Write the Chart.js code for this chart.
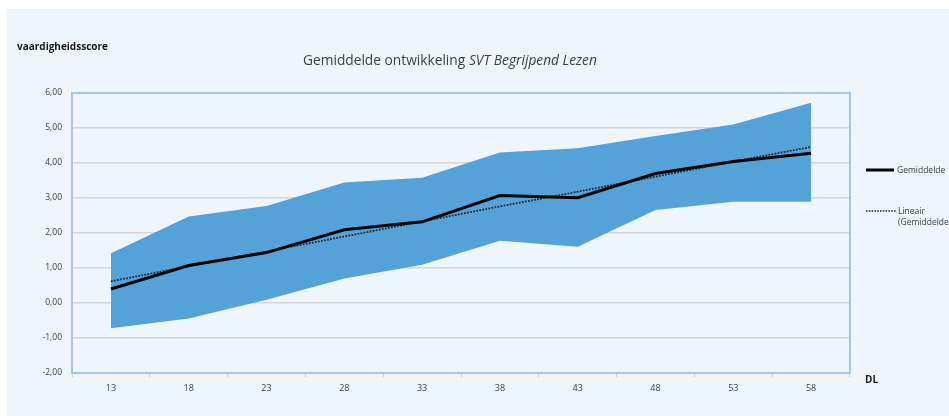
<!DOCTYPE html>
<html>
<head>
<meta charset="utf-8">
<script src="https://cdn.jsdelivr.net/npm/chart.js@4.4.1/dist/chart.umd.min.js"></script>
<style>
  html, body { margin: 0; padding: 0; background: #ffffff; }
  #wrap { width: 949px; height: 416px; position: relative; }
</style>
</head>
<body>
<div id="wrap"><canvas id="c" width="949" height="416"></canvas></div>
<script>
// Leerjaar-punten (DL) en vaardigheidsscores
const dlLabels   = ['13', '18', '23', '28', '33', '38', '43', '48', '53', '58'];
const gemiddelde = [0.40, 1.07, 1.44, 2.09, 2.32, 3.07, 3.01, 3.70, 4.04, 4.28];
const lineair    = [0.62, 1.05, 1.47, 1.90, 2.33, 2.76, 3.18, 3.61, 4.04, 4.46];
const bovengrens = [1.42, 2.47, 2.77, 3.44, 3.58, 4.30, 4.42, 4.77, 5.10, 5.72];
const ondergrens = [-0.72, -0.44, 0.09, 0.70, 1.09, 1.78, 1.61, 2.66, 2.89, 2.89];

const FONT = "'Open Sans', 'Liberation Sans', sans-serif";
const BG = '#eef5fb';

const decor = {
  id: 'decor',
  beforeDraw(chart) {
    const { ctx, width, height } = chart;
    ctx.save();
    ctx.fillStyle = '#ffffff';
    ctx.fillRect(0, 0, width, height);
    ctx.fillStyle = BG;
    ctx.fillRect(7, 9, width - 7, height - 9);
    ctx.restore();
  },
  afterDraw(chart) {
    const { ctx, chartArea: a } = chart;
    ctx.save();
    // plot frame
    ctx.strokeStyle = '#a6c6e4';
    ctx.lineWidth = 2;
    ctx.strokeRect(a.left, a.top, a.right - a.left, a.bottom - a.top);

    // y-axis caption
    ctx.fillStyle = '#1a1a1a';
    ctx.font = "bold 10px " + FONT;
    ctx.textBaseline = 'alphabetic';
    ctx.textAlign = 'left';
    ctx.fillText('vaardigheidsscore', 17, 50);

    // title with italic part
    const t1 = 'Gemiddelde ontwikkeling ';
    const t2 = 'SVT Begrijpend Lezen';
    let size = 13;
    ctx.font = size + 'px ' + FONT;
    let w1 = ctx.measureText(t1).width;
    ctx.font = 'italic ' + size + 'px ' + FONT;
    let w2 = ctx.measureText(t2).width;
    const s = 294 / (w1 + w2);
    size = size * s;
    w1 *= s; w2 *= s;
    const x0 = 450 - (w1 + w2) / 2;
    ctx.fillStyle = '#404040';
    ctx.font = size + 'px ' + FONT;
    ctx.fillText(t1, x0, 65);
    ctx.font = 'italic ' + size + 'px ' + FONT;
    ctx.fillText(t2, x0 + w1, 65);

    // x-axis caption
    ctx.fillStyle = '#1a1a1a';
    ctx.font = "bold 10px " + FONT;
    ctx.fillText('DL', 865, 383);

    // legend
    ctx.strokeStyle = '#000000';
    ctx.lineWidth = 3;
    ctx.beginPath();
    ctx.moveTo(866, 170); ctx.lineTo(894, 170);
    ctx.stroke();
    ctx.strokeStyle = '#1f2a33';
    ctx.lineWidth = 1.6;
    ctx.setLineDash([1.6, 1.2]);
    ctx.beginPath();
    ctx.moveTo(866, 211); ctx.lineTo(896, 211);
    ctx.stroke();
    ctx.setLineDash([]);
    ctx.fillStyle = '#404040';
    ctx.font = '8.5px ' + FONT;
    ctx.fillText('Gemiddelde', 897, 173);
    ctx.fillText('Lineair', 898, 214);
    ctx.fillText('(Gemiddelde)', 898, 225);
    ctx.restore();
  }
};

new Chart(document.getElementById('c'), {
  type: 'line',
  data: {
    labels: dlLabels,
    datasets: [
      {
        label: 'Gemiddelde',
        data: gemiddelde,
        borderColor: '#050505',
        borderWidth: 3,
        pointRadius: 0,
        tension: 0,
        fill: false,
        order: 0
      },
      {
        label: 'Lineair (Gemiddelde)',
        data: lineair,
        borderColor: '#1f2a33',
        borderWidth: 1.8,
        borderDash: [1.8, 1.3],
        pointRadius: 0,
        tension: 0,
        fill: false,
        order: 1
      },
      {
        label: 'Bovengrens',
        data: bovengrens,
        borderWidth: 0,
        borderColor: 'rgba(0,0,0,0)',
        backgroundColor: '#55a2d8',
        pointRadius: 0,
        tension: 0,
        fill: '+1',
        order: 2
      },
      {
        label: 'Ondergrens',
        data: ondergrens,
        borderWidth: 0,
        borderColor: 'rgba(0,0,0,0)',
        backgroundColor: '#55a2d8',
        pointRadius: 0,
        tension: 0,
        fill: false,
        order: 3
      }
    ]
  },
  options: {
    responsive: false,
    animation: false,
    devicePixelRatio: 1,
    layout: { padding: { left: 0, top: 93, right: 99, bottom: 0 } },
    plugins: {
      legend: { display: false },
      tooltip: { enabled: false },
      filler: { propagate: false }
    },
    scales: {
      x: {
        offset: true,
        grid: {
          display: true,
          drawOnChartArea: false,
          offset: true,
          color: '#c8d0d8',
          tickLength: 4
        },
        border: { display: false },
        ticks: {
          color: '#404040',
          font: { family: FONT, size: 9 },
          padding: 6,
          maxRotation: 0
        },
        afterFit(axis) { axis.height = 43; }
      },
      y: {
        min: -2,
        max: 6,
        grid: {
          color: '#d6d6d6',
          lineWidth: 1.5,
          drawTicks: false
        },
        border: { display: false },
        ticks: {
          stepSize: 1,
          color: '#404040',
          font: { family: FONT, size: 8.5 },
          padding: 10,
          callback: v => v.toFixed(2).replace('.', ',')
        },
        afterFit(axis) { axis.width = 72; }
      }
    }
  },
  plugins: [decor]
});
</script>
</body>
</html>
